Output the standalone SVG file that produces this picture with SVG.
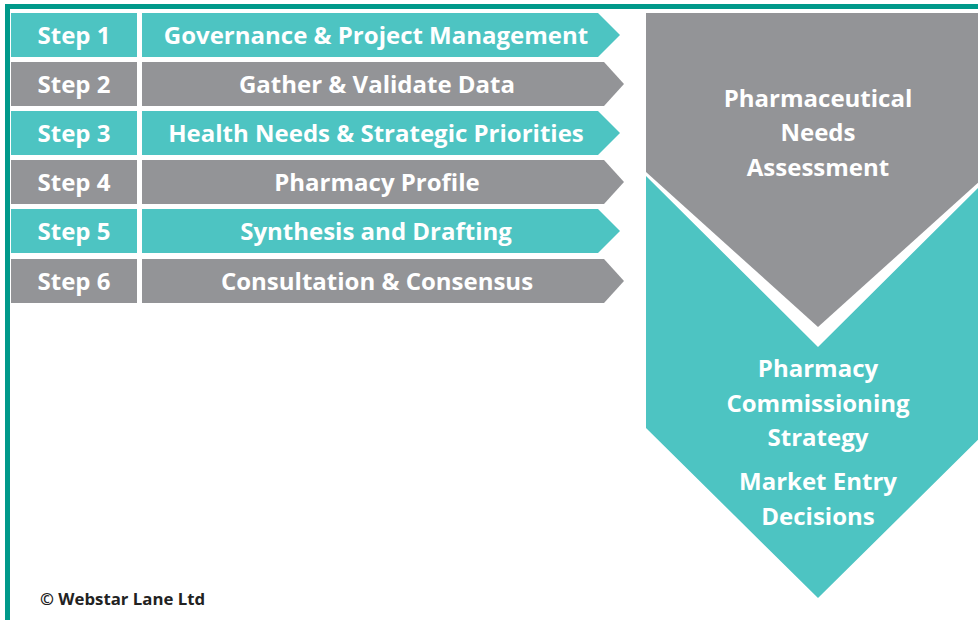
<svg xmlns="http://www.w3.org/2000/svg" width="978" height="620" viewBox="0 0 978 620">
<style>
.t{fill:#4dc4c2}
.g{fill:#939497}
.lbl{font-family:"Open Sans","Liberation Sans",sans-serif;font-weight:700;fill:#ffffff;text-anchor:middle}
.s{font-size:24px}
.b{font-size:24px}
.c{font-family:"Open Sans","Liberation Sans",sans-serif;font-weight:700;font-size:16.8px;fill:#222222}
</style>
<rect width="978" height="620" fill="#ffffff"/>
<path d="M7.5,620 V6.5 H978" fill="none" stroke="#00998a" stroke-width="5"/>
<g id="step1">
<rect class="t" x="11" y="13" width="126" height="44"/>
<polygon class="t" points="142,13 598,13 620,35 598,57 142,57"/>
<text class="lbl s" x="74" y="44">Step 1</text>
<text class="lbl s" x="376" y="44">Governance &amp; Project Management</text>
</g>
<g id="step2">
<rect class="g" x="11" y="62" width="126" height="44"/>
<polygon class="g" points="142,62 604,62 624,84 604,106 142,106"/>
<text class="lbl s" x="74" y="93">Step 2</text>
<text class="lbl s" x="377" y="93">Gather &amp; Validate Data</text>
</g>
<g id="step3">
<rect class="t" x="11" y="111" width="126" height="44"/>
<polygon class="t" points="142,111 598,111 620,133 598,155 142,155"/>
<text class="lbl s" x="74" y="142">Step 3</text>
<text class="lbl s" x="376" y="142">Health Needs &amp; Strategic Priorities</text>
</g>
<g id="step4">
<rect class="g" x="11" y="160" width="126" height="44"/>
<polygon class="g" points="142,160 604,160 624,182 604,204 142,204"/>
<text class="lbl s" x="74" y="191">Step 4</text>
<text class="lbl s" x="377" y="191">Pharmacy Profile</text>
</g>
<g id="step5">
<rect class="t" x="11" y="209" width="126" height="44"/>
<polygon class="t" points="142,209 598,209 620,231 598,253 142,253"/>
<text class="lbl s" x="74" y="240">Step 5</text>
<text class="lbl s" x="376" y="240">Synthesis and Drafting</text>
</g>
<g id="step6">
<rect class="g" x="11" y="259" width="126" height="44"/>
<polygon class="g" points="142,259 604,259 624,281 604,303 142,303"/>
<text class="lbl s" x="74" y="290">Step 6</text>
<text class="lbl s" x="377" y="290">Consultation &amp; Consensus</text>
</g>
<g id="pna">
<polygon class="g" points="646,13 990,13 990,172 818,327 646,172"/>
<text class="lbl b" x="818" y="107">Pharmaceutical</text>
<text class="lbl b" x="818" y="141">Needs</text>
<text class="lbl b" x="818" y="176">Assessment</text>
</g>
<g id="pcs">
<polygon class="t" points="646,176 818,347 990,176 990,428 818,598 646,428"/>
<text class="lbl b" x="818" y="377">Pharmacy</text>
<text class="lbl b" x="818" y="412">Commissioning</text>
<text class="lbl b" x="818" y="446">Strategy</text>
<text class="lbl b" x="818" y="490">Market Entry</text>
<text class="lbl b" x="818" y="525">Decisions</text>
</g>
<g id="connectors"/>
<text class="c" x="40" y="605">© Webstar Lane Ltd</text>
</svg>
